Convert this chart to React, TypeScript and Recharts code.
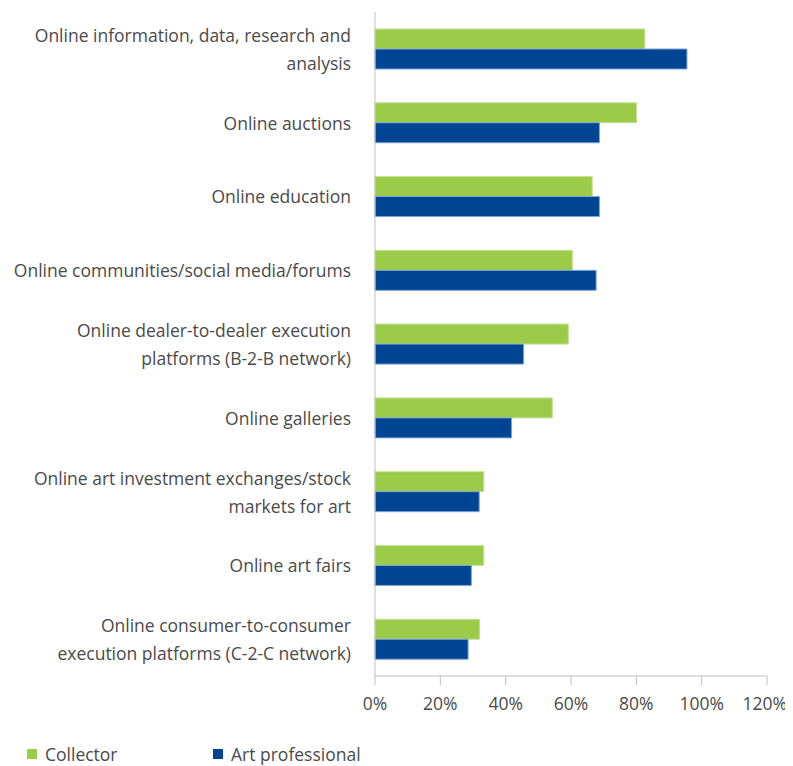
import { BarChart, Bar, XAxis, YAxis } from "recharts";

const categories = [
  "Online information, data, research and\nanalysis",
  "Online auctions",
  "Online education",
  "Online communities/social media/forums",
  "Online dealer-to-dealer execution\nplatforms (B-2-B network)",
  "Online galleries",
  "Online art investment exchanges/stock\nmarkets for art",
  "Online art fairs",
  "Online consumer-to-consumer\nexecution platforms (C-2-C network)",
];
const collector = [82.6, 80.1, 66.5, 60.4, 59.2, 54.3, 33.3, 33.3, 32.0];
const artProfessional = [95.5, 68.7, 68.7, 67.7, 45.5, 41.8, 31.9, 29.5, 28.5];
const xTicks = [0, 20, 40, 60, 80, 100, 120];

const data = categories.map((name, i) => ({
  name,
  collector: collector[i],
  artProfessional: artProfessional[i],
}));

const FONT = "'Open Sans', sans-serif";
const TEXT = "#4a4a4a";
const GREEN = "#9bcb48";
const BLUE = "#004494";
const FS = 17.5;

function CategoryTick(props: any) {
  const { x, y, payload } = props;
  const lines: string[] = String(payload.value).split("\n");
  const lineHeight = 28;
  const startY = y - ((lines.length - 1) * lineHeight) / 2;
  return (
    <g>
      {lines.map((line, i) => (
        <text
          key={i}
          x={x}
          y={startY + i * lineHeight}
          textAnchor="end"
          dominantBaseline="central"
          fill={TEXT}
          fontSize={FS}
          fontFamily={FONT}
        >
          {line}
        </text>
      ))}
    </g>
  );
}

// keep the last label inside the page edge
function PercentTick(props: any) {
  const { x, y, payload } = props;
  const last = payload.value === xTicks[xTicks.length - 1];
  return (
    <text
      x={last ? x + 20 : x}
      y={y + 16}
      textAnchor={last ? "end" : "middle"}
      dominantBaseline="central"
      fill={TEXT}
      fontSize={FS}
      fontFamily={FONT}
    >
      {`${payload.value}%`}
    </text>
  );
}

const legendItems = [
  { label: "Collector", color: GREEN, left: 19 },
  { label: "Art professional", color: BLUE, left: 205 },
];

export default function App() {
  return (
    <div style={{ position: "relative", width: 785, height: 758 }}>
      <BarChart
        width={785}
        height={730}
        data={data}
        layout="vertical"
        margin={{ top: 4, right: 26, bottom: 22, left: 0 }}
        barGap={0}
        barSize={20}
      >
        <XAxis
          type="number"
          domain={[0, 120]}
          ticks={xTicks}
          axisLine={{ stroke: "#bfbfbf" }}
          tickLine={{ stroke: "#bfbfbf" }}
          tickSize={9}
          height={40}
          tick={<PercentTick />}
          interval={0}
        />
        <YAxis
          type="category"
          dataKey="name"
          width={367}
          axisLine={{ stroke: "#bfbfbf" }}
          tickLine={false}
          tickMargin={18}
          tick={<CategoryTick />}
          interval={0}
        />
        <Bar
          dataKey="collector"
          name="Collector"
          fill={GREEN}
          stroke="#c4e295"
          strokeWidth={1}
          isAnimationActive={false}
        />
        <Bar
          dataKey="artProfessional"
          name="Art professional"
          fill={BLUE}
          stroke="#7fa3d4"
          strokeWidth={1}
          isAnimationActive={false}
        />
      </BarChart>
      {legendItems.map((it) => (
        <div
          key={it.label}
          style={{
            position: "absolute",
            left: it.left,
            top: 737,
            display: "flex",
            alignItems: "center",
            fontFamily: FONT,
            fontSize: FS,
            color: TEXT,
            lineHeight: "18px",
          }}
        >
          <span style={{ width: 10, height: 10, background: it.color, display: "inline-block", marginRight: 8 }} />
          <span>{it.label}</span>
        </div>
      ))}
    </div>
  );
}
